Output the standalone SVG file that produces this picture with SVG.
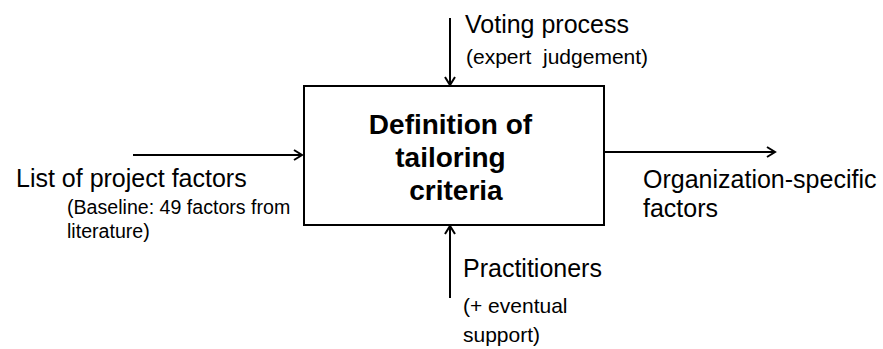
<svg xmlns="http://www.w3.org/2000/svg" width="883" height="349" viewBox="0 0 883 349">
<style>
  .t { font-family: "Liberation Sans", Arial, Helvetica, sans-serif; fill: #000; }
  .main { font-size: 25px; }
  .sub { font-size: 21px; white-space: pre; }
  .bold { font-size: 28px; font-weight: bold; }
  .conn { stroke: #000; stroke-width: 2; fill: none; marker-end: url(#arrow); }
</style>
<defs>
  <marker id="arrow" markerUnits="userSpaceOnUse" markerWidth="14" markerHeight="14" refX="10" refY="6" orient="auto">
    <path d="M2,1 L10,6 L2,11" fill="none" stroke="#000" stroke-width="2"/>
  </marker>
</defs>
<rect width="883" height="349" fill="#fff"/>
<g id="connectors">
  <line class="conn" x1="450" y1="18" x2="450" y2="85"/>
  <line class="conn" x1="133" y1="155" x2="302" y2="155"/>
  <line class="conn" x1="605" y1="152" x2="775" y2="152"/>
  <line class="conn" x1="450" y1="298" x2="450" y2="226"/>
</g>
<g id="process">
  <rect x="304" y="86" width="300" height="139" fill="#fff" stroke="#000" stroke-width="2"/>
  <text class="t bold" x="450.5" y="134" text-anchor="middle">Definition of</text>
  <text class="t bold" x="450.5" y="167" text-anchor="middle">tailoring</text>
  <text class="t bold" x="456" y="200" text-anchor="middle">criteria</text>
</g>
<g id="control">
  <text class="t main" x="465" y="33">Voting process</text>
  <text class="t sub" x="466" y="64">(expert  judgement)</text>
</g>
<g id="input">
  <text class="t main" x="16" y="187">List of project factors</text>
  <text class="t sub" x="67" y="214" style="font-size:19.6px">(Baseline: 49 factors from</text>
  <text class="t sub" x="67" y="238" style="font-size:19.6px">literature)</text>
</g>
<g id="output">
  <text class="t main" x="643" y="188">Organization-specific</text>
  <text class="t main" x="643" y="217">factors</text>
</g>
<g id="mechanism">
  <text class="t main" x="463" y="277">Practitioners</text>
  <text class="t sub" x="463" y="313">(+ eventual</text>
  <text class="t sub" x="463" y="342">support)</text>
</g>
</svg>
